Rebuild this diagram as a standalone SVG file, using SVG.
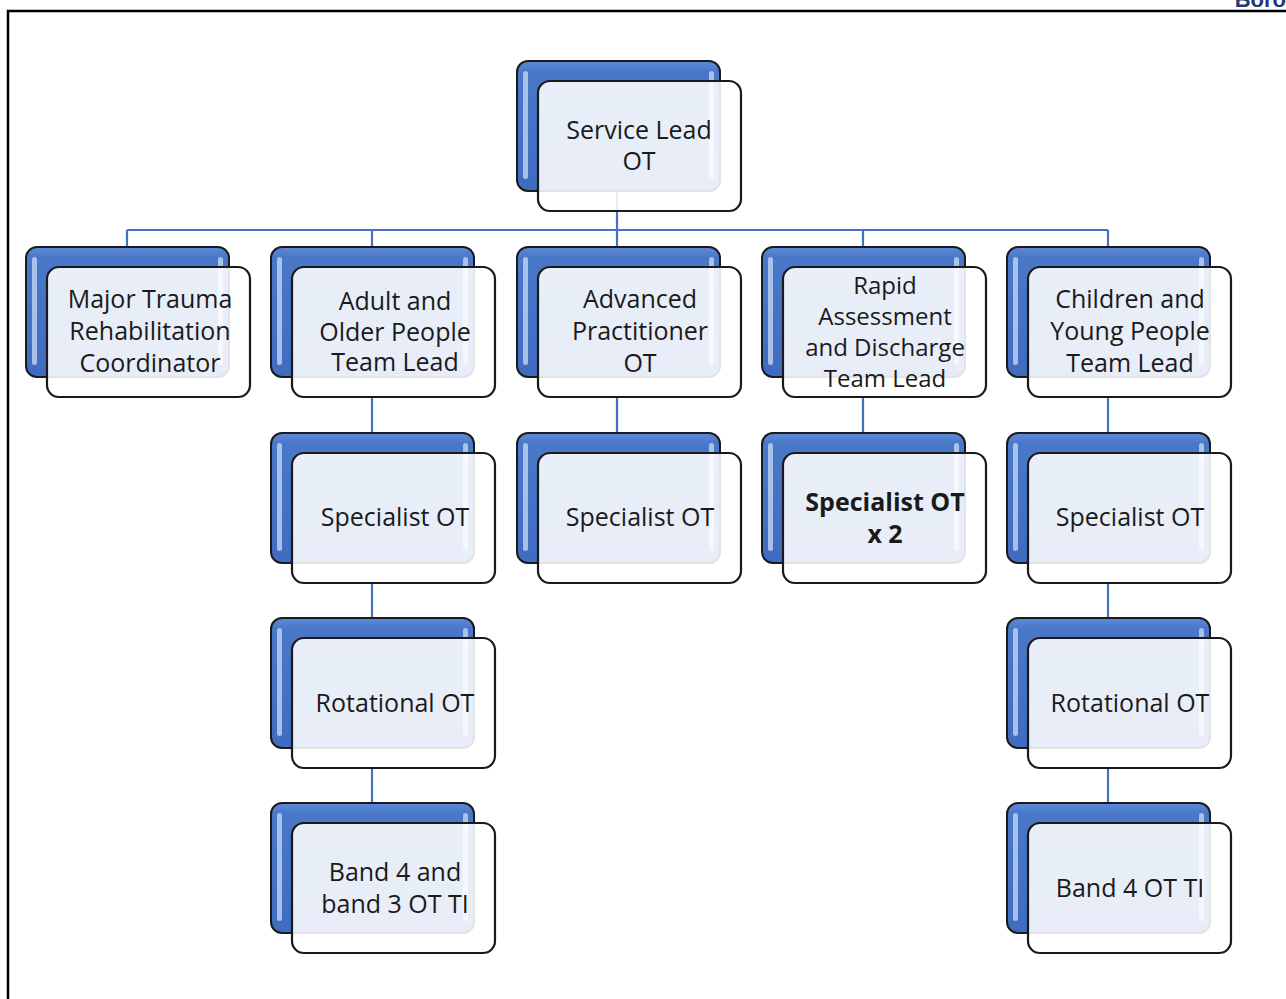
<svg xmlns="http://www.w3.org/2000/svg" width="1286" height="999" viewBox="0 0 1286 999">
<style>
.back{fill:url(#blueG);stroke:#1a1a1a;stroke-width:2}
.hl{fill:#c9dbf5;opacity:0.75}
.front{fill:#ffffff;fill-opacity:0.88;stroke:#1a1a1a;stroke-width:2.2}
.conn{stroke:#4472c4;stroke-width:2.2;fill:none}
.t{font-family:"Open Sans","Liberation Sans",sans-serif;font-size:25px;fill:#1a1a1a;text-anchor:middle}
.ts{font-size:24px}
.b{font-weight:bold}
</style>
<defs>
<linearGradient id="blueG" x1="0" y1="0" x2="0" y2="1">
<stop offset="0" stop-color="#5d8ad8"/>
<stop offset="0.08" stop-color="#4a78c8"/>
<stop offset="1" stop-color="#3f6cc0"/>
</linearGradient>
<g id="card">
<rect class="back" x="0" y="0" width="203" height="130" rx="11"/>
<rect class="hl" x="6" y="10" width="5" height="108" rx="2.5"/>
<rect class="hl" x="192" y="10" width="5" height="108" rx="2.5"/>
<rect class="front" x="21" y="20" width="203" height="130" rx="12"/>
</g>
</defs>
<rect x="0" y="0" width="1286" height="999" fill="#ffffff"/>
<path d="M8 999 V11 H1286" stroke="#000" stroke-width="2.5" fill="none"/>
<text x="1286" y="7" font-family="Liberation Sans,sans-serif" font-weight="bold" font-size="22" fill="#1f3a7a" text-anchor="end">Boro</text>

<g id="connectors">
<path class="conn" d="M617 191 V230 M127 230 H1108 M127 230 V247 M372 230 V247 M617 230 V247 M863 230 V247 M1108 230 V247"/>
<path class="conn" d="M372 397 V433 M372 582 V618 M372 768 V803"/>
<path class="conn" d="M617 397 V433"/>
<path class="conn" d="M863 397 V433"/>
<path class="conn" d="M1108 397 V433 M1108 582 V618 M1108 768 V803"/>
</g>

<g id="service-lead"><use href="#card" x="517" y="61"/>
<text class="t" x="639" y="139">Service Lead</text><text class="t" x="639" y="170">OT</text></g>

<g id="major-trauma"><use href="#card" x="26" y="247"/>
<text class="t" x="150" y="308">Major Trauma</text><text class="t" x="150" y="340">Rehabilitation</text><text class="t" x="150" y="372">Coordinator</text></g>

<g id="adult-older"><use href="#card" x="271" y="247"/>
<text class="t" x="395" y="310">Adult and</text><text class="t" x="395" y="341">Older People</text><text class="t" x="395" y="371">Team Lead</text></g>

<g id="advanced"><use href="#card" x="517" y="247"/>
<text class="t" x="640" y="308">Advanced</text><text class="t" x="640" y="340">Practitioner</text><text class="t" x="640" y="372">OT</text></g>

<g id="rapid"><use href="#card" x="762" y="247"/>
<text class="t ts" x="885" y="294">Rapid</text><text class="t ts" x="885" y="325">Assessment</text><text class="t ts" x="885" y="356">and Discharge</text><text class="t ts" x="885" y="387">Team Lead</text></g>

<g id="children"><use href="#card" x="1007" y="247"/>
<text class="t" x="1130" y="308">Children and</text><text class="t" x="1130" y="340">Young People</text><text class="t" x="1130" y="372">Team Lead</text></g>

<g id="specialist-adult"><use href="#card" x="271" y="433"/>
<text class="t" x="395" y="526">Specialist OT</text></g>

<g id="specialist-adv"><use href="#card" x="517" y="433"/>
<text class="t" x="640" y="526">Specialist OT</text></g>

<g id="specialist-rapid"><use href="#card" x="762" y="433"/>
<text class="t b" x="885" y="511">Specialist OT</text><text class="t b" x="885" y="543">x 2</text></g>

<g id="specialist-cyp"><use href="#card" x="1007" y="433"/>
<text class="t" x="1130" y="526">Specialist OT</text></g>

<g id="rotational-adult"><use href="#card" x="271" y="618"/>
<text class="t" x="395" y="712">Rotational OT</text></g>

<g id="rotational-cyp"><use href="#card" x="1007" y="618"/>
<text class="t" x="1130" y="712">Rotational OT</text></g>

<g id="band-adult"><use href="#card" x="271" y="803"/>
<text class="t" x="395" y="881">Band 4 and</text><text class="t" x="395" y="913">band 3 OT TI</text></g>

<g id="band-cyp"><use href="#card" x="1007" y="803"/>
<text class="t" x="1130" y="897">Band 4 OT TI</text></g>
</svg>
